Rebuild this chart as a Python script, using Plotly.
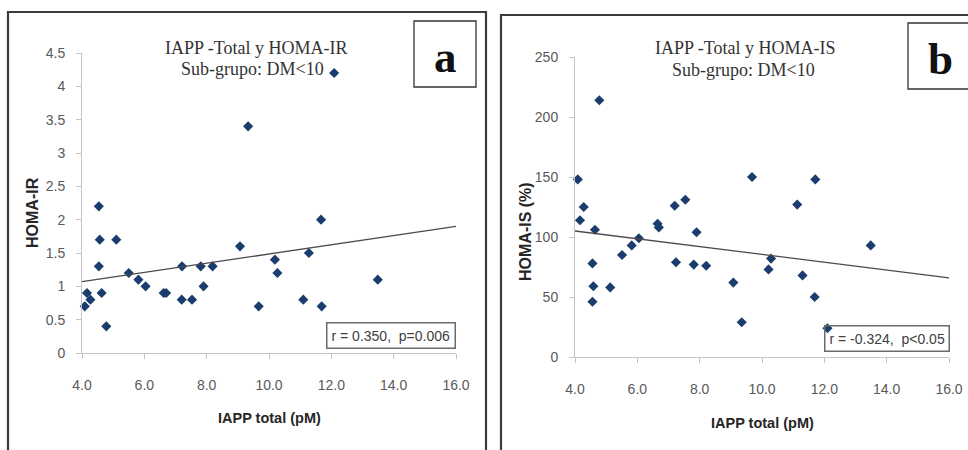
import plotly.graph_objects as go

# ---------------- data ----------------
iapp_a = [4.09, 4.16, 4.27, 4.54, 4.57, 4.54, 4.63, 4.78, 5.10, 5.50, 5.81, 6.04, 6.62, 6.70,
          7.21, 7.20, 7.53, 7.81, 7.90, 8.19, 9.07, 9.33, 9.67, 10.19, 10.27, 11.10, 11.28,
          11.67, 11.69, 12.09, 13.49]
homa_ir = [0.70, 0.90, 0.80, 2.20, 1.70, 1.30, 0.90, 0.40, 1.70, 1.20, 1.10, 1.00, 0.90, 0.90,
           1.30, 0.80, 0.80, 1.30, 1.00, 1.30, 1.60, 3.40, 0.70, 1.40, 1.20, 0.80, 1.50,
           2.00, 0.70, 4.20, 1.10]

iapp_b = [4.09, 4.16, 4.28, 4.56, 4.59, 4.56, 4.64, 4.78, 5.13, 5.51, 5.82, 6.05, 6.65, 6.69,
          7.20, 7.24, 7.54, 7.81, 7.90, 8.21, 9.08, 9.35, 9.68, 10.21, 10.29, 11.13, 11.30,
          11.69, 11.71, 12.10, 13.49]
homa_is = [148, 114, 125, 78, 59, 46, 106, 214, 58, 85, 93, 99, 111, 108,
           126, 79, 131, 77, 104, 76, 62, 29, 150, 73, 82, 127, 68,
           50, 148, 24, 93]

trend_x = [4.0, 16.0]
trend_ir = [1.07, 1.90]
trend_is = [105.0, 66.0]

x_ticks = [4, 6, 8, 10, 12, 14, 16]
x_ticklabels = ["4.0", "6.0", "8.0", "10.0", "12.0", "14.0", "16.0"]
y_ticks_a = [0, 0.5, 1, 1.5, 2, 2.5, 3, 3.5, 4, 4.5]
y_ticklabels_a = ["0", "0.5", "1", "1.5", "2", "2.5", "3", "3.5", "4", "4.5"]
y_ticks_b = [0, 50, 100, 150, 200, 250]
y_ticklabels_b = ["0", "50", "100", "150", "200", "250"]

titles_a = ["IAPP -Total y HOMA-IR", "Sub-grupo: DM&lt;10"]
titles_b = ["IAPP -Total y HOMA-IS", "Sub-grupo: DM&lt;10"]
stat_a = "r = 0.350,&nbsp; p=0.006"
stat_b = "r = -0.324,&nbsp; p&lt;0.05"
xlabel = "IAPP total (pM)"
ylabel_a = "HOMA-IR"
ylabel_b = "HOMA-IS (%)"

# ---------------- layout helpers ----------------
W, H = 968, 450
def px(x):
    return x / W
def py(y):
    return 1 - y / H

MARK = "#1b3d6d"
AXC = "#c4c4c4"
TICKF = dict(family="Liberation Sans, Arial, sans-serif", size=14, color="#595959")
XTITLEF = dict(family="Liberation Sans, Arial, sans-serif", size=14.5, color="#262626")
YTITLEF = dict(family="Liberation Sans, Arial, sans-serif", size=16, color="#262626")
SERIF = "Liberation Serif, Times New Roman, serif"

fig = go.Figure()

fig.add_trace(go.Scatter(x=iapp_a, y=homa_ir, mode="markers", xaxis="x", yaxis="y",
                         marker=dict(symbol="diamond", size=7.8, color=MARK),
                         cliponaxis=False, showlegend=False))
fig.add_trace(go.Scatter(x=trend_x, y=trend_ir, mode="lines", xaxis="x", yaxis="y",
                         line=dict(color="#4a4a4a", width=1.3), showlegend=False))
fig.add_trace(go.Scatter(x=iapp_b, y=homa_is, mode="markers", xaxis="x2", yaxis="y2",
                         marker=dict(symbol="diamond", size=7.8, color=MARK),
                         cliponaxis=False, showlegend=False))
fig.add_trace(go.Scatter(x=trend_x, y=trend_is, mode="lines", xaxis="x2", yaxis="y2",
                         line=dict(color="#4a4a4a", width=1.3), showlegend=False))

def xaxis(dom, anchor):
    return dict(domain=dom, anchor=anchor, range=[4, 16], tickvals=x_ticks, ticktext=x_ticklabels,
                showline=True, linecolor=AXC, linewidth=1, ticks="outside", ticklen=5,
                tickcolor=AXC, showgrid=False, zeroline=False, tickfont=TICKF,
                ticklabelstandoff=14, fixedrange=True, automargin=False)

def yaxis(dom, anchor, rng, tv, tt):
    return dict(domain=dom, anchor=anchor, range=rng, tickvals=tv, ticktext=tt,
                showline=True, linecolor=AXC, linewidth=1, ticks="outside", ticklen=5,
                tickcolor=AXC, showgrid=False, zeroline=False, tickfont=TICKF,
                ticklabelstandoff=8, fixedrange=True, automargin=False)

fig.update_layout(
    width=W, height=H, margin=dict(l=0, r=0, t=0, b=0, pad=0, autoexpand=False),
    paper_bgcolor="white", plot_bgcolor="white", showlegend=False,
    xaxis=xaxis([px(82), px(456)], "y"),
    yaxis=yaxis([py(353), py(53)], "x", [0, 4.5], y_ticks_a, y_ticklabels_a),
    xaxis2=xaxis([px(575), px(949)], "y2"),
    yaxis2=yaxis([py(357), py(57)], "x2", [0, 250], y_ticks_b, y_ticklabels_b),
)

shapes = []
# panel frames
shapes.append(dict(type="rect", xref="paper", yref="paper", x0=px(8), x1=px(486), y0=py(12), y1=py(470),
                   line=dict(color="#3c3c3c", width=2.2), layer="below"))
shapes.append(dict(type="rect", xref="paper", yref="paper", x0=px(501), x1=px(990), y0=py(15), y1=py(470),
                   line=dict(color="#3c3c3c", width=2.2), layer="below"))
# letter boxes
shapes.append(dict(type="rect", xref="paper", yref="paper", x0=px(414), x1=px(476), y0=py(21), y1=py(87),
                   line=dict(color="#333333", width=1.3)))
shapes.append(dict(type="rect", xref="paper", yref="paper", x0=px(908), x1=px(990), y0=py(23), y1=py(89),
                   line=dict(color="#333333", width=1.3)))
fig.update_layout(shapes=shapes)

ann = []
def text(x, y, t, font, xanchor="center", yanchor="middle", **kw):
    ann.append(dict(x=px(x), y=py(y), xref="paper", yref="paper", text=t, showarrow=False,
                    font=font, xanchor=xanchor, yanchor=yanchor, **kw))

tf = dict(family=SERIF, size=18, color="#333333")
text(256, 48, titles_a[0], tf)
text(252, 69, titles_a[1], tf)
text(745, 48, titles_b[0], tf)
text(743, 70, titles_b[1], tf)

lf = dict(family=SERIF, size=45, color="#111111", weight="bold")
text(445, 57, "<b>a</b>", lf)
text(940, 59, "<b>b</b>", lf)

text(269, 418, "<b>" + xlabel + "</b>", XTITLEF)
text(762, 423, "<b>" + xlabel + "</b>", XTITLEF)
text(32, 213, "<b>" + ylabel_a + "</b>", YTITLEF, textangle=-90)
text(525, 232, "<b>" + ylabel_b + "</b>", YTITLEF, textangle=-90)

sf = dict(family="Liberation Sans, Arial, sans-serif", size=14, color="#404040")
text(456, 349, stat_a, sf, xanchor="right", yanchor="bottom",
     bordercolor="#6a6a6a", borderwidth=1.5, borderpad=4, bgcolor="white")
text(950, 352, stat_b, sf, xanchor="right", yanchor="bottom",
     bordercolor="#6a6a6a", borderwidth=1.5, borderpad=4, bgcolor="rgba(255,255,255,0)")
fig.update_layout(annotations=ann)

fig.write_html("out.html")
